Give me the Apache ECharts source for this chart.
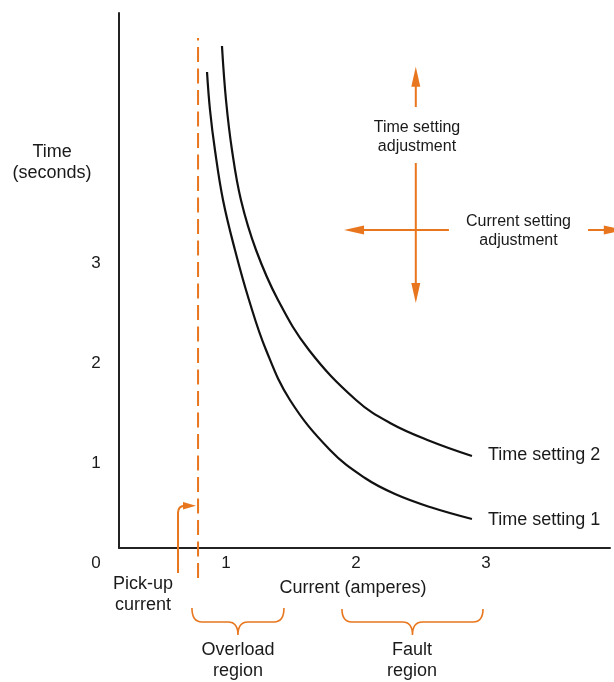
<!DOCTYPE html>
<html><head><meta charset="utf-8">
<script src="https://cdn.jsdelivr.net/npm/echarts/dist/echarts.min.js"></script>
<style>html,body{margin:0;padding:0;background:#fff}#c{width:614px;height:682px}</style>
</head><body><div id="c"></div>
<script>
// ---- data (current in amperes, time in seconds) ----
const xTickValues = [1, 2, 3];
const yTickValues = [0, 1, 2, 3];
const setting1Current = [0.854, 0.877, 0.915, 0.977, 1.069, 1.177, 1.308, 1.492, 1.800, 2.069, 2.300, 2.569, 2.892];
const setting1Time    = [4.91, 4.53, 4.13, 3.63, 3.13, 2.63, 2.13, 1.63, 1.13, 0.85, 0.69, 0.56, 0.44];
const setting2Current = [0.969, 1.000, 1.046, 1.115, 1.231, 1.400, 1.638, 2.000, 2.262, 2.569, 2.892];
const setting2Time    = [5.17, 4.63, 4.13, 3.63, 3.13, 2.63, 2.13, 1.63, 1.40, 1.22, 1.07];
const pickupCurrent = 0.785;
const pickupSpan = [-0.15, 5.25];
// adjustment arrows: [fromX, fromY, tipX, tipY]
const adjustArrows = [
  [2.46, 4.56, 2.46, 4.963],
  [2.46, 4.00, 2.46, 2.60],
  [2.715, 3.33, 1.908, 3.33],
  [3.785, 3.33, 4.06, 3.33]
];
// pick-up pointer: [x, bottomY, cornerY, tipX]
const pickupPointer = [[0.631, -0.10, 0.573, 0.769]];
// region braces: [fromX, toX, topY, midY, tipY]
const regionBraces = [
  [0.738, 1.446, -0.45, -0.59, -0.72],
  [1.892, 2.977, -0.46, -0.59, -0.72]
];
// annotation texts
const noteTexts  = ['Time\n(seconds)', 'Pick-up\ncurrent', 'Current (amperes)', 'Overload\nregion', 'Fault\nregion',
                    'Time setting 2', 'Time setting 1', 'Time setting\nadjustment', 'Current setting\nadjustment'];
const noteX      = [-0.338, 0.362, 1.977, 1.092, 2.431, 3.015, 3.015, 2.469, 3.25];
const noteY      = [4.005, -0.315, -0.25, -0.975, -0.98, 1.08, 0.43, 4.26, 3.32];
const noteAlign  = ['center', 'center', 'center', 'center', 'center', 'left', 'left', 'center', 'center'];
const noteSize   = [18, 18, 18, 18, 18, 18, 18, 16, 16];

const ORANGE = '#E8761E';
const INK = '#1a1a1a';
const FONT = '"Liberation Sans", Arial, sans-serif';

const chart = echarts.init(document.getElementById('c'), null, {renderer: 'canvas'});

function arrowItem(params, api) {
  const s = adjustArrows[params.dataIndex];
  const p0 = api.coord([s[0], s[1]]);
  const p1 = api.coord([s[2], s[3]]);
  const dx = p1[0] - p0[0], dy = p1[1] - p0[1];
  const len = Math.hypot(dx, dy);
  const ux = dx / len, uy = dy / len;
  const hl = 20, hw = 4.5;
  const bx = p1[0] - ux * hl, by = p1[1] - uy * hl;
  return {type: 'group', children: [
    {type: 'line', shape: {x1: p0[0], y1: p0[1], x2: bx + ux * 2, y2: by + uy * 2}, style: {stroke: ORANGE, lineWidth: 2}},
    {type: 'polygon', shape: {points: [[p1[0], p1[1]], [bx - uy * hw, by + ux * hw], [bx + uy * hw, by - ux * hw]]}, style: {fill: ORANGE}}
  ]};
}
function pointerItem(params, api) {
  const s = pickupPointer[params.dataIndex];
  const b = api.coord([s[0], s[1]]);
  const c = api.coord([s[0], s[2]]);
  const t = api.coord([s[3], s[2]]);
  const r = 7, hl = 13, hw = 3.8;
  const d = `M ${b[0]} ${b[1]} L ${c[0]} ${c[1] + r} Q ${c[0]} ${c[1]} ${c[0] + r} ${c[1]} L ${t[0] - hl + 1} ${t[1]}`;
  return {type: 'group', children: [
    {type: 'path', shape: {pathData: d}, style: {stroke: ORANGE, fill: null, lineWidth: 2}},
    {type: 'polygon', shape: {points: [[t[0], t[1]], [t[0] - hl, t[1] - hw], [t[0] - hl, t[1] + hw]]}, style: {fill: ORANGE}}
  ]};
}
function braceItem(params, api) {
  const s = regionBraces[params.dataIndex];
  const a = api.coord([s[0], s[2]]);
  const m = api.coord([s[0], s[3]]);
  const tip = api.coord([(s[0] + s[1]) / 2, s[4]]);
  const e = api.coord([s[1], s[2]]);
  const x1 = a[0], x2 = e[0], yT = a[1], yM = m[1], xm = tip[0], yTip = tip[1];
  const r = 10;
  const d = `M ${x1} ${yT} Q ${x1} ${yM} ${x1 + r} ${yM} L ${xm - r} ${yM} Q ${xm} ${yM} ${xm} ${yTip} ` +
            `Q ${xm} ${yM} ${xm + r} ${yM} L ${x2 - r} ${yM} Q ${x2} ${yM} ${x2} ${yT}`;
  return {type: 'path', shape: {pathData: d}, style: {stroke: ORANGE, fill: null, lineWidth: 1.6}};
}
function noteItem(params, api) {
  const i = params.dataIndex;
  const p = api.coord([noteX[i], noteY[i]]);
  const fs = noteSize[i];
  return {type: 'text', style: {text: noteTexts[i], x: p[0], y: p[1], align: noteAlign[i], verticalAlign: 'middle',
    font: fs + 'px ' + FONT, lineHeight: fs + 3, fill: INK}};
}

const hiddenAxis = {axisLine: {show: false}, axisTick: {show: false}, splitLine: {show: false}};

chart.setOption({
  animation: false,
  backgroundColor: '#fff',
  grid: [
    {left: 96, top: 13, width: 520, height: 550, containLabel: false, outerBoundsMode: 'none'},
    {left: 119, top: 13, right: 4, bottom: 134, containLabel: false, outerBoundsMode: 'none'}
  ],
  xAxis: [
    Object.assign({type: 'value', gridIndex: 0, min: 0, max: 4, interval: 1,
      axisLabel: {margin: 0, verticalAlign: 'middle', fontSize: 17, color: INK, fontFamily: FONT,
        showMaxLabel: false, showMinLabel: true,
        formatter: v => xTickValues.includes(v) ? String(v) : ''}}, hiddenAxis),
    {type: 'value', gridIndex: 1, min: 0, max: 1, axisLabel: {show: false}, axisTick: {show: false}, splitLine: {show: false},
      axisLine: {show: true, onZero: false, lineStyle: {color: '#222', width: 2}}}
  ],
  yAxis: [
    Object.assign({type: 'value', gridIndex: 0, min: 0, max: 5.5, interval: 1,
      axisLabel: {margin: 0, align: 'center', verticalAlign: 'middle', fontSize: 17, color: INK, fontFamily: FONT,
        showMaxLabel: false,
        formatter: v => yTickValues.includes(v) ? String(v) : ''}}, hiddenAxis),
    {type: 'value', gridIndex: 1, min: 0, max: 1, axisLabel: {show: false}, axisTick: {show: false}, splitLine: {show: false},
      axisLine: {show: true, onZero: false, lineStyle: {color: '#222', width: 2}}}
  ],
  series: [
    {type: 'line', name: 'Time setting 1', xAxisIndex: 0, yAxisIndex: 0, smooth: 0.4, showSymbol: false, clip: false,
      data: setting1Current.map((x, i) => [x, setting1Time[i]]), lineStyle: {color: '#111', width: 2.2}},
    {type: 'line', name: 'Time setting 2', xAxisIndex: 0, yAxisIndex: 0, smooth: 0.4, showSymbol: false, clip: false,
      data: setting2Current.map((x, i) => [x, setting2Time[i]]), lineStyle: {color: '#111', width: 2.2}},
    {type: 'line', name: 'Pick-up', xAxisIndex: 0, yAxisIndex: 0, showSymbol: false, clip: false,
      data: pickupSpan.map(y => [pickupCurrent, y]), lineStyle: {color: ORANGE, width: 2, type: [15, 6.5]}},
    {type: 'custom', xAxisIndex: 0, yAxisIndex: 0, clip: false, renderItem: arrowItem, data: adjustArrows, encode: {x: [0, 2], y: [1, 3]}},
    {type: 'custom', xAxisIndex: 0, yAxisIndex: 0, clip: false, renderItem: pointerItem, data: pickupPointer, encode: {x: [0, 3], y: [1, 2]}},
    {type: 'custom', xAxisIndex: 0, yAxisIndex: 0, clip: false, renderItem: braceItem, data: regionBraces, encode: {x: [0, 1], y: [2, 3]}},
    {type: 'custom', xAxisIndex: 0, yAxisIndex: 0, clip: false, renderItem: noteItem,
      data: noteX.map((x, i) => [x, noteY[i]]), encode: {x: 0, y: 1}}
  ]
});
</script></body></html>
